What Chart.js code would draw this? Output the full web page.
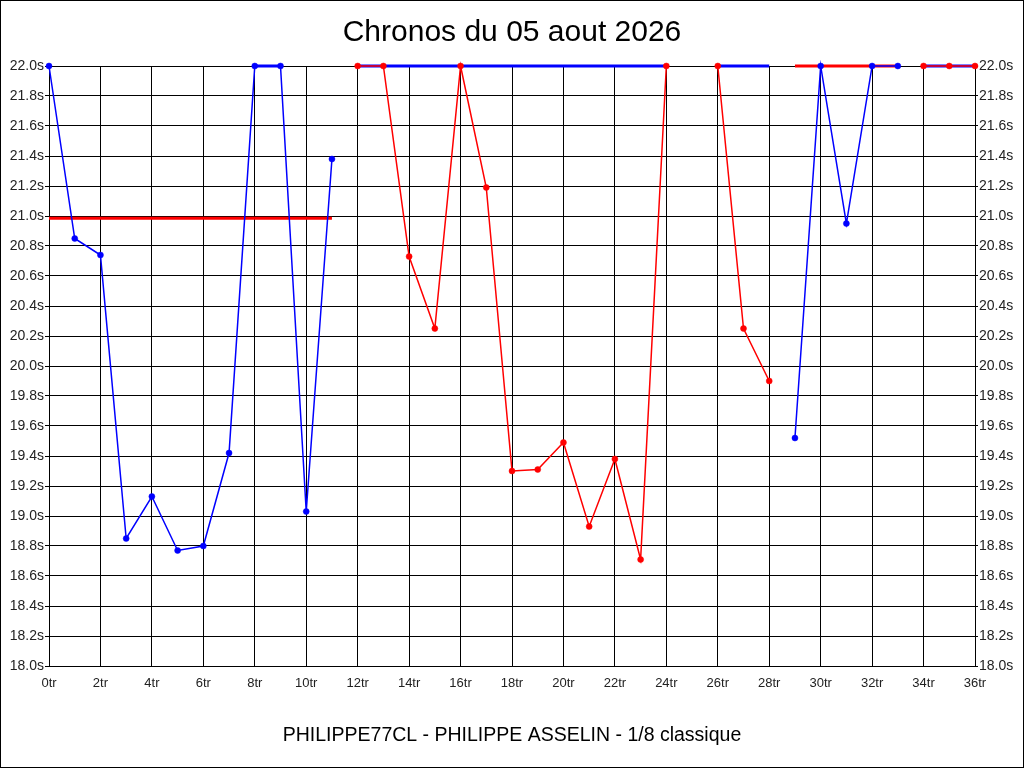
<!DOCTYPE html>
<html lang="fr">
<head>
<meta charset="UTF-8">
<title>Chronos du 05 aout 2026</title>
<style>
  body { margin: 0; background: #fff; }
  #wrap { width: 1024px; height: 768px; }
</style>
</head>
<body>
<div id="wrap"><canvas id="myChart" width="1024" height="768"></canvas></div>

<script src="https://cdn.jsdelivr.net/npm/chart.js"></script>
<script>
// tours (laps) 0..36
const laps = [0, 1, 2, 3, 4, 5, 6, 7, 8, 9, 10, 11, 12, 13, 14, 15, 16, 17, 18,
              19, 20, 21, 22, 23, 24, 25, 26, 27, 28, 29, 30, 31, 32, 33, 34, 35, 36];

// chronos piste bleue (secondes, plafonnes a 22.0)
const blueTimes = [22.0, 20.85, 20.74, 18.85, 19.13, 18.77, 18.80, 19.42, 22.0, 22.0, 19.03, 21.38,
                   null, null, null, null, null, null, null, null, null, null, null, null, null,
                   null, null, null, null,
                   19.52, 22.0, 20.95, 22.0, 22.0,
                   null, null, null];

// chronos piste rouge
const redTimes = [null, null, null, null, null, null, null, null, null, null, null, null,
                  22.0, 22.0, 20.73, 20.25, 22.0, 21.19, 19.30, 19.31, 19.49, 18.93, 19.38, 18.71, 22.0,
                  null,
                  22.0, 20.25, 19.90,
                  null, null, null, null, null,
                  22.0, 22.0, 22.0];

// traits epais
const redBar = [20.985, 20.985, 20.985, 20.985, 20.985, 20.985, 20.985, 20.985, 20.985, 20.985, 20.985, 20.985,
                null, null, null, null, null, null, null, null, null, null, null, null, null,
                null, null, null, null,
                22.0, 22.0, 22.0, 22.0, 22.0,
                null, null, null];

const blueBar = [null, null, null, null, null, null, null, null, 22.0, 22.0, null, null,
                 22.0, 22.0, 22.0, 22.0, 22.0, 22.0, 22.0, 22.0, 22.0, 22.0, 22.0, 22.0, 22.0,
                 null,
                 22.0, 22.0, 22.0,
                 null, null, null, null, null,
                 22.0, 22.0, 22.0];

const v_font = "'Liberation Sans', Arial, sans-serif";

function f_pts(p_values) {
    return laps.map((l, i) => ({ x: l, y: p_values[i] }));
}

const framePlugin = {
    id: 'frame',
    afterDraw(chart) {
        const c = chart.ctx;
        c.save();
        c.strokeStyle = '#000';
        c.lineWidth = 1;
        c.strokeRect(0.5, 0.5, chart.width - 1, chart.height - 1);
        c.restore();
    }
};

const ctx = document.getElementById('myChart');

new Chart(ctx, {
    type: 'line',
    data: {
        datasets: [
            {
                label: 'bleu',
                data: f_pts(blueTimes),
                borderColor: '#0000ff',
                backgroundColor: '#0000ff',
                borderWidth: 1.5,
                pointRadius: 3,
                pointBorderWidth: 0.5,
                clip: false,
                order: 0
            },
            {
                label: 'rouge',
                data: f_pts(redTimes),
                borderColor: '#ff0000',
                backgroundColor: '#ff0000',
                borderWidth: 1.5,
                pointRadius: 3,
                pointBorderWidth: 0.5,
                clip: false,
                order: 0
            },
            {
                label: 'rouge ref',
                data: f_pts(redBar),
                borderColor: '#ff0000',
                borderWidth: 3,
                pointRadius: 0,
                clip: false,
                order: 1
            },
            {
                label: 'bleu ref',
                data: f_pts(blueBar),
                borderColor: '#0000ff',
                borderWidth: 3,
                pointRadius: 0,
                clip: false,
                order: 1
            }
        ]
    },
    options: {
        responsive: false,
        animation: false,
        devicePixelRatio: 1,
        layout: { padding: 0 },
        elements: { line: { tension: 0 } },
        spanGaps: false,
        plugins: {
            legend: { display: false },
            tooltip: { enabled: false },
            title: {
                display: true,
                text: 'Chronos du 05 aout 2026',
                color: '#000',
                font: { family: v_font, size: 30, weight: 'normal' },
                padding: { top: 15, bottom: 15 }
            },
            subtitle: {
                display: true,
                position: 'bottom',
                text: 'PHILIPPE77CL - PHILIPPE ASSELIN - 1/8 classique',
                color: '#000',
                font: { family: v_font, size: 19.5, weight: 'normal' },
                padding: { top: 6, bottom: 21 }
            }
        },
        scales: {
            x: {
                type: 'linear',
                min: 0,
                max: 36,
                afterFit(scale) { scale.height = 51.6; },
                ticks: {
                    stepSize: 2,
                    color: '#222',
                    padding: 10,
                    maxRotation: 0,
                    font: { family: v_font, size: 13 },
                    callback: (v) => v + 'tr'
                },
                grid: { color: '#000', lineWidth: 1, drawTicks: false },
                border: { color: '#000', width: 1 }
            },
            y: {
                position: 'left',
                min: 18,
                max: 22,
                afterFit(scale) { scale.width = 49; },
                ticks: {
                    stepSize: 0.2,
                    color: '#222',
                    padding: 1,
                    font: { family: v_font, size: 14 },
                    callback: (v) => Number(v).toFixed(1) + 's'
                },
                grid: { color: '#000', lineWidth: 1, tickLength: 4 },
                border: { color: '#000', width: 1 }
            },
            y2: {
                position: 'right',
                min: 18,
                max: 22,
                afterFit(scale) { scale.width = 49; },
                ticks: {
                    stepSize: 0.2,
                    color: '#222',
                    padding: 1,
                    font: { family: v_font, size: 14 },
                    callback: (v) => Number(v).toFixed(1) + 's'
                },
                grid: { color: '#000', lineWidth: 1, tickLength: 3, drawOnChartArea: false },
                border: { color: '#000', width: 1 }
            }
        }
    },
    plugins: [framePlugin]
});
</script>
</body>
</html>
